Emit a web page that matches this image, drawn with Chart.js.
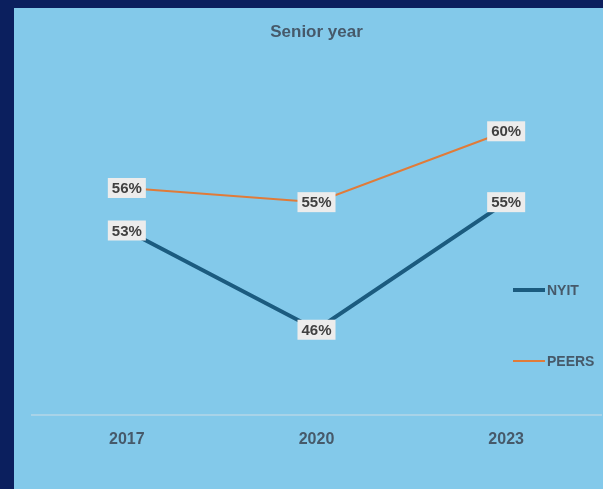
<!DOCTYPE html>
<html>
<head>
<meta charset="utf-8">
<script src="https://cdn.jsdelivr.net/npm/chart.js@4"></script>
<style>
  html, body { margin: 0; padding: 0; background: #0b1f5e; }
  #wrap { position: absolute; left: 14px; top: 8px; width: 589px; height: 481px; background: #83c9ea; }
</style>
</head>
<body>
<div id="wrap"><canvas id="seniorChart"></canvas></div>
<script>
// values (percent)
const years = ["2017", "2020", "2023"];
const nyit = [53, 46, 55];
const peers = [56, 55, 60];
const seriesNames = ["NYIT", "PEERS"];

const labelFont = "bold 15px 'Liberation Sans', Arial, sans-serif";
const textColor = "#46596a";

// little grey boxes with the value in them, centered on each point
const valueLabels = {
    id: "valueLabels",
    afterDatasetsDraw(chart) {
        const ctx = chart.ctx;
        ctx.save();
        ctx.font = labelFont;
        ctx.textAlign = "center";
        ctx.textBaseline = "middle";
        chart.data.datasets.forEach((ds, i) => {
            chart.getDatasetMeta(i).data.forEach((pt, j) => {
                const txt = ds.data[j] + "%";
                const w = ctx.measureText(txt).width + 8;
                const h = 20;
                ctx.fillStyle = "#ececec";
                ctx.fillRect(pt.x - w / 2, pt.y - h / 2, w, h);
                ctx.fillStyle = "#404040";
                ctx.fillText(txt, pt.x, pt.y + 1);
            });
        });
        ctx.restore();
    }
};

// legend sits over the right part of the plot, like the original
const sideLegend = {
    id: "sideLegend",
    afterDraw(chart) {
        const ctx = chart.ctx;
        const rows = [282, 353];
        ctx.save();
        ctx.font = "bold 14px 'Liberation Sans', Arial, sans-serif";
        ctx.textBaseline = "middle";
        chart.data.datasets.forEach((ds, i) => {
            const y = rows[i];
            ctx.strokeStyle = ds.borderColor;
            ctx.lineWidth = ds.borderWidth;
            ctx.beginPath();
            ctx.moveTo(499, y);
            ctx.lineTo(531, y);
            ctx.stroke();
            ctx.fillStyle = textColor;
            ctx.fillText(ds.label, 533, y + 1);
        });
        ctx.restore();
    }
};

const ctx = document.getElementById("seniorChart").getContext("2d");
const myChart = new Chart(ctx, {
    type: "line",
    data: {
        labels: years,
        datasets: [
            {
                label: seriesNames[0],
                data: nyit,
                borderColor: "#1b5b7f",
                borderWidth: 4,
                pointRadius: 0,
                tension: 0
            },
            {
                label: seriesNames[1],
                data: peers,
                borderColor: "#e07b39",
                borderWidth: 2,
                pointRadius: 0,
                tension: 0
            }
        ]
    },
    options: {
        responsive: true,
        maintainAspectRatio: false,
        animation: false,
        layout: { padding: { left: 18, right: 2, top: 0, bottom: 25 } },
        plugins: {
            legend: { display: false },
            tooltip: { enabled: false },
            title: {
                display: true,
                text: "Senior year",
                color: textColor,
                font: { family: "'Liberation Sans Narrow', 'Liberation Sans', Arial", size: 17, weight: "bold" },
                padding: { top: 14, bottom: 18 }
            }
        },
        scales: {
            x: {
                offset: true,
                grid: { display: false, drawTicks: false },
                border: { display: true, color: "#a8d3e8", width: 2 },
                ticks: {
                    color: textColor,
                    padding: 15,
                    font: { family: "'Liberation Sans', Arial", size: 16, weight: "bold" }
                }
            },
            y: {
                display: false,
                min: 40,
                max: 65
            }
        }
    },
    plugins: [valueLabels, sideLegend]
});
</script>
</body>
</html>
